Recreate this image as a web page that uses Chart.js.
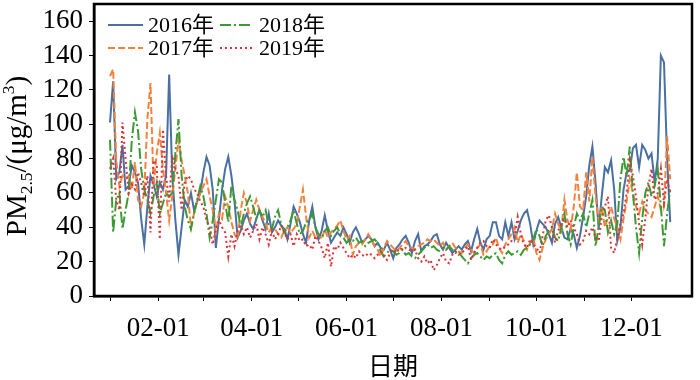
<!DOCTYPE html>
<html>
<head>
<meta charset="utf-8">
<script src="https://cdn.jsdelivr.net/npm/chart.js@4"></script>
<style>
  body{margin:0;background:#fff;}
</style>
</head>
<body>
<canvas id="pmChart" width="700" height="380"></canvas>
<script>
// daily PM2.5, one value every 2 days starting Jan 1
const years = ['2016年', '2017年', '2018年', '2019年'];
const dayStep = 2;

const pm2016 = [101,125,68,72,88,62,64,76,72,66,45,30,52,70,65,58,66,62,70,129,
  70,44,24,40,56,52,60,50,55,60,72,81,76,62,28,45,62,74,81,70,
  55,34,38,44,48,42,39,45,50,44,39,48,37,40,44,41,39,33,42,52,
  48,43,36,31,44,52,40,33,38,47,38,31,34,37,35,40,36,31,37,40,
  36,31,33,35,33,29,31,28,27,31,27,22,28,30,33,35,31,25,32,36,
  26,29,30,32,35,36,30,27,31,28,25,27,29,27,30,32,26,33,39,31,
  27,33,35,43,43,35,33,43,35,43,33,38,44,48,50,42,30,38,44,42,
  40,36,31,42,46,40,34,33,39,36,28,35,46,58,76,87,66,39,58,75,
  72,79,62,32,40,62,72,73,86,88,75,88,85,80,83,66,80,140,136,80,43];

const pm2017 = [128,132,79,64,70,68,70,62,78,56,52,60,103,124,64,83,95,74,60,44,
  58,74,91,79,70,60,40,48,55,60,64,68,58,50,37,48,45,58,52,43,
  36,33,50,60,54,44,50,56,50,46,42,37,40,39,36,34,38,40,37,39,
  42,52,62,46,34,38,34,36,33,39,34,37,39,41,44,38,33,35,24,29,
  31,30,33,36,33,29,27,23,28,32,30,28,26,28,30,32,29,28,27,29,
  30,31,33,32,33,31,29,31,27,29,31,28,26,25,28,30,27,25,28,30,
  24,26,29,30,34,28,25,30,33,36,40,31,36,32,27,31,34,25,21,28,
  33,36,39,48,42,38,56,44,39,52,72,52,50,72,55,81,58,44,52,40,
  46,52,45,40,33,45,55,68,60,52,48,55,50,48,46,52,58,50,52,93,68];

const pm2018 = [91,37,56,60,39,50,60,91,107,96,74,62,56,48,58,66,48,54,60,58,
  60,83,103,70,52,44,39,48,56,64,58,48,34,44,56,68,66,54,43,64,
  56,50,40,48,54,58,52,45,50,46,50,41,39,46,50,42,37,40,44,50,
  42,36,38,43,44,48,40,36,34,38,40,35,38,40,36,34,31,33,32,34,
  31,32,29,31,32,33,31,26,23,25,27,26,24,25,27,24,25,23,22,24,
  26,28,30,28,29,27,26,28,27,29,27,25,26,23,21,19,22,24,25,23,
  21,23,22,24,25,21,19,24,26,24,25,26,24,27,28,30,33,39,35,29,
  35,38,40,34,32,40,48,36,30,40,48,44,48,40,48,56,29,40,52,50,
  37,44,36,42,68,81,70,87,60,40,25,45,60,66,58,64,74,52,29,48,62];

const pm2019 = [74,80,56,50,101,80,60,65,62,72,66,58,70,37,79,76,33,97,70,55,
  82,74,70,50,66,70,68,62,60,55,52,44,40,30,39,44,40,37,23,36,
  29,38,41,36,40,34,38,42,33,40,36,30,38,33,36,41,37,33,36,29,
  36,32,33,29,30,27,35,32,28,22,31,17,29,27,31,28,25,22,24,22,
  26,24,23,25,24,22,24,26,23,21,25,27,25,28,27,28,27,26,27,22,
  20,23,19,21,15,18,22,25,20,19,24,26,24,25,27,29,21,25,28,31,
  32,29,28,33,30,28,27,29,30,32,35,46,36,30,28,33,30,28,25,35,
  44,47,40,31,38,42,45,40,44,40,36,30,32,38,36,40,34,32,46,52,
  58,28,25,34,42,48,60,79,70,58,42,30,45,64,74,56,60,74,54,68,60];

// first day of each month (leap year), only even months get a label
const monthStarts = [0, 31, 60, 91, 121, 152, 182, 213, 244, 274, 305, 335];
const monthLabels = ['01-01', '02-01', '03-01', '04-01', '05-01', '06-01',
  '07-01', '08-01', '09-01', '10-01', '11-01', '12-01'];
const yTicks = [0, 20, 40, 60, 80, 100, 120, 140, 160];

const serif = '"Liberation Serif", "Times New Roman", "Noto Sans CJK SC", serif';
const colors = ['#4a70a3', '#f5823c', '#3d9a33', '#d9353a'];
const dashes = [[], [7, 3], [11, 3, 2, 3], [2, 3]];

function toPoints(arr) {
  return arr.map((v, i) => ({x: i * dayStep, y: v}));
}

const series = [pm2016, pm2017, pm2018, pm2019];
const datasets = series.map((arr, k) => ({
  label: years[k],
  data: toPoints(arr),
  borderColor: colors[k],
  borderDash: dashes[k],
  borderWidth: 2,
  pointRadius: 0,
  tension: 0,
  fill: false,
  order: 3 - k   // later years drawn on top
}));

function noPad(s) {
  s.paddingTop = 0; s.paddingBottom = 0;
  s.paddingLeft = 0; s.paddingRight = 0;
}

const framePlugin = {
  id: 'frame',
  afterDraw(chart) {
    const ctx = chart.ctx;
    const a = chart.chartArea;
    ctx.save();
    ctx.strokeStyle = '#000';
    ctx.lineWidth = 2.5;
    ctx.strokeRect(a.left, a.top, a.right - a.left, a.bottom - a.top);

    // legend, two columns inside the plot
    const cols = [[108, 143, 148], [220, 253, 259]];
    const rows = [25, 48];
    const place = [[0, 0], [0, 1], [1, 0], [1, 1]];
    ctx.font = '22px ' + serif;
    ctx.textBaseline = 'middle';
    ctx.textAlign = 'left';
    datasets.forEach((d, k) => {
      const c = cols[place[k][0]], y = rows[place[k][1]];
      ctx.strokeStyle = d.borderColor;
      ctx.lineWidth = 2;
      ctx.setLineDash(d.borderDash);
      ctx.beginPath();
      ctx.moveTo(c[0], y);
      ctx.lineTo(c[1], y);
      ctx.stroke();
      ctx.setLineDash([]);
      ctx.fillStyle = '#000';
      ctx.fillText(d.label, c[2], y + 1);
    });

    // x title
    ctx.font = '25px ' + serif;
    ctx.textAlign = 'center';
    ctx.fillText('日期', (a.left + a.right) / 2, 368);

    // y title with sub/superscript
    const size = 29;
    const parts = [
      {t: 'PM', s: 1, dy: 0},
      {t: '2.5', s: 0.6, dy: 0.22},
      {t: '/(μg/m', s: 1, dy: 0},
      {t: '3', s: 0.6, dy: -0.42},
      {t: ')', s: 1, dy: 0}
    ];
    let total = 0;
    parts.forEach(p => {
      ctx.font = (size * p.s) + 'px ' + serif;
      p.w = ctx.measureText(p.t).width;
      total += p.w;
    });
    ctx.translate(26, 156);
    ctx.rotate(-Math.PI / 2);
    ctx.textAlign = 'left';
    ctx.textBaseline = 'alphabetic';
    let x = -total / 2;
    parts.forEach(p => {
      ctx.font = (size * p.s) + 'px ' + serif;
      ctx.fillText(p.t, x, p.dy * size);
      x += p.w;
    });
    ctx.restore();
  }
};

const ctx = document.getElementById('pmChart').getContext('2d');
const pmChart = new Chart(ctx, {
  type: 'line',
  data: {datasets: datasets},
  options: {
    responsive: false,
    animation: false,
    layout: {padding: {left: 0, right: 8, top: 4, bottom: 0}},
    plugins: {legend: {display: false}, tooltip: {enabled: false}},
    scales: {
      x: {
        type: 'linear',
        min: -10.3,
        max: 374,
        afterBuildTicks: s => { s.ticks = monthStarts.map(v => ({value: v})); },
        afterFit: s => { s.height = 84; noPad(s); },
        ticks: {
          autoSkip: false, maxRotation: 0, minRotation: 0, padding: 12,
          color: '#000', font: {family: serif, size: 27},
          callback: v => {
            const i = monthStarts.indexOf(v);
            return i % 2 === 1 ? monthLabels[i] : '';
          }
        },
        grid: {drawOnChartArea: false, drawTicks: true, tickLength: 5, color: '#000', lineWidth: 1},
        border: {display: true, color: '#000', width: 2.5}
      },
      y: {
        min: 0,
        max: 170,
        afterBuildTicks: s => { s.ticks = yTicks.map(v => ({value: v})); },
        afterFit: s => { s.width = 94; noPad(s); },
        ticks: {autoSkip: false, padding: 6, color: '#000', font: {family: serif, size: 27}},
        grid: {drawOnChartArea: false, drawTicks: true, tickLength: 5, color: '#000', lineWidth: 1},
        border: {display: true, color: '#000', width: 2.5}
      }
    }
  },
  plugins: [framePlugin]
});
</script>
</body>
</html>
